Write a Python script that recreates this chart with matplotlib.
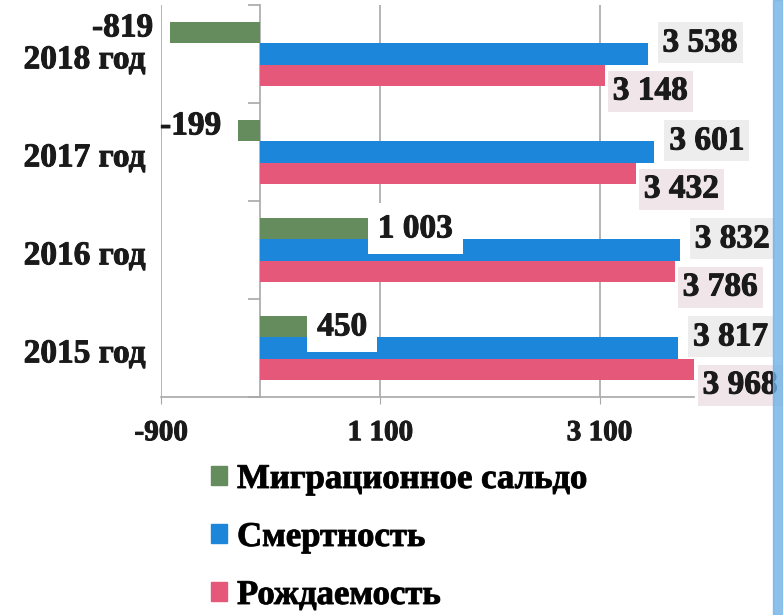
import numpy as np
import matplotlib
matplotlib.use('Agg')
import matplotlib.pyplot as plt
from matplotlib.patches import Patch, Rectangle
import matplotlib.transforms as mtransforms
import matplotlib.patheffects as pe

plt.rcParams['font.family'] = ['Liberation Serif', 'DejaVu Serif']
plt.rcParams['font.weight'] = 'bold'

years = ['2015 год', '2016 год', '2017 год', '2018 год']
migration = [450, 1003, -199, -819]
deaths = [3817, 3832, 3601, 3538]
births = [3968, 3786, 3432, 3148]
xticks = [-900, 1100, 3100]
xtick_labels = ['-900', '1 100', '3 100']
series_names = ['Миграционное сальдо', 'Смертность', 'Рождаемость']

c_green = '#648c5c'
c_blue = '#1c87da'
c_pink = '#e6587a'
txt = '#1a1a1a'
heavy = [pe.withStroke(linewidth=0.7, foreground=txt)]


def fmt(v):
    return '{:,}'.format(v).replace(',', ' ')


fig = plt.figure(figsize=(7.83, 6.15), dpi=100)
ax = fig.add_axes([0.206, 0.3545, 0.680, 0.6374])

y = np.arange(len(years))
h = 0.215

ax.barh(y + h, migration, height=h, color=c_green, zorder=3)
ax.barh(y, deaths, height=h, color=c_blue, zorder=3)
ax.barh(y - h, births, height=h, color=c_pink, zorder=3)

ax.set_xlim(-900, 3960)
ax.set_ylim(-0.5, 3.5)

# vertical gridlines
ax.set_xticks(xticks)
ax.set_xticklabels(xtick_labels, fontsize=21, fontweight='bold', color=txt)
for t in ax.get_xticklabels():
    t.set_path_effects(heavy)
ax.grid(axis='x', color='#a8a8a8', linewidth=1.2, zorder=0)
ax.tick_params(axis='x', length=5, color='#a8a8a8', pad=11)

# category axis at zero
for s in ['top', 'right']:
    ax.spines[s].set_visible(False)
ax.spines['bottom'].set_color('#a8a8a8')
ax.spines['bottom'].set_linewidth(1.2)
ax.spines['left'].set_position(('data', 0))
ax.spines['left'].set_color('#a8a8a8')
ax.spines['left'].set_linewidth(1.2)
ax.set_yticks(y)
ax.set_yticklabels([])
ax.tick_params(axis='y', which='major', length=0)
ax.set_yticks(np.arange(-0.5, len(years), 1.0), minor=True)
ax.tick_params(axis='y', which='minor', length=9, color='#a8a8a8', width=1.2)

# category labels on the far left
trans = mtransforms.blended_transform_factory(ax.transAxes, ax.transData)
for yi, name in zip(y, years):
    ax.text(-0.03, yi - 0.06, name, transform=trans, ha='right', va='center',
            fontsize=24, fontweight='bold', color=txt, path_effects=heavy)

# value labels
for yi, v in zip(y, deaths):
    ax.annotate(fmt(v), xy=(v, yi), xytext=(15, 11), textcoords='offset pixels',
                ha='left', va='center', fontsize=24, fontweight='bold', color=txt,
                bbox=dict(boxstyle='square,pad=0.15', fc='#ebebeb', ec='none', alpha=0.9),
                zorder=5, annotation_clip=False, path_effects=heavy)
for yi, v in zip(y, births):
    ax.annotate(fmt(v), xy=(v, yi - h), xytext=(8, -16), textcoords='offset pixels',
                ha='left', va='center', fontsize=24, fontweight='bold', color=txt,
                bbox=dict(boxstyle='square,pad=0.15', fc='#efe4e8', ec='none', alpha=0.9),
                zorder=5, annotation_clip=False, path_effects=heavy)
for yi, v in zip(y, migration):
    if v < 0:
        ax.annotate(fmt(v), xy=(v, yi + h), xytext=(-17, 5), textcoords='offset pixels',
                    ha='right', va='center', fontsize=24, fontweight='bold', color=txt,
                    zorder=5, annotation_clip=False, path_effects=heavy)
    else:
        ax.annotate(fmt(v), xy=(v, yi + h), xytext=(8, 0), textcoords='offset pixels',
                    ha='left', va='center', fontsize=24, fontweight='bold', color=txt,
                    bbox=dict(boxstyle='square,pad=0.3', fc='white', ec='none'),
                    zorder=5, annotation_clip=False, path_effects=heavy)

# legend
handles = [Patch(color=c_green), Patch(color=c_blue), Patch(color=c_pink)]
leg = fig.legend(handles, series_names, loc='upper left',
                 bbox_to_anchor=(211 / 783, 1 - 463 / 615),
                 frameon=False, prop={'weight': 'bold', 'size': 25},
                 handlelength=0.45, handleheight=0.45, handletextpad=0.3, labelspacing=0.72,
                 borderpad=0, borderaxespad=0)
for t in leg.get_texts():
    t.set_path_effects(heavy)

# blue page edge on the right
fig.patches.append(Rectangle((0.987, 0), 0.013, 1, transform=fig.transFigure,
                             color='#6fb2e6', alpha=0.8, zorder=0))

fig.savefig('out.png', dpi=100, facecolor='white')
